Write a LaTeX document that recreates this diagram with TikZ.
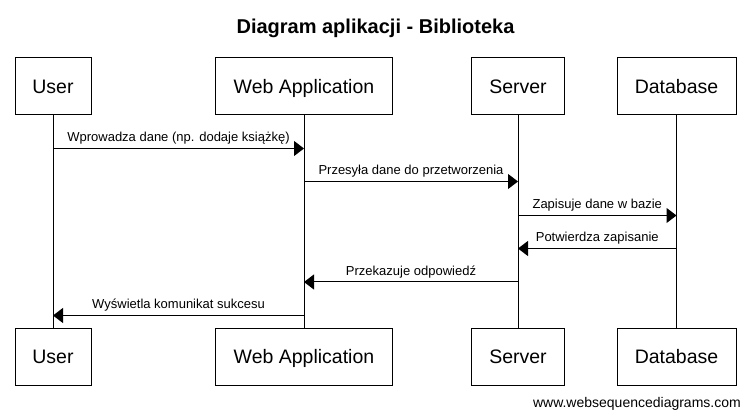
\documentclass[tikz,border=0pt]{standalone}
\usepackage{fontspec}
\setmainfont{Liberation Sans}
\usetikzlibrary{arrows.meta}
\begin{document}
\begin{tikzpicture}[x=1pt,y=-1pt,
  box/.style={draw, line width=1pt, minimum height=57pt, inner sep=0pt,
    font=\fontsize{19.5}{22}\selectfont, text height=14pt, text depth=0pt},
  life/.style={line width=1pt},
  msg/.style={line width=1pt, -{Triangle[length=10pt,width=15pt]}},
  lbl/.style={font=\fontsize{13}{15}\selectfont, anchor=base, inner sep=0pt}]
\useasboundingbox (0,0) rectangle (750,419);
\fill[white] (0,0) rectangle (750,419);
\node[font=\fontsize{20}{23}\selectfont\bfseries, anchor=base, inner sep=0pt] (title) at (375.5,33.5) {Diagram aplikacji - Biblioteka};
% top boxes
\node[box, minimum width=76pt] (U) at (53,86.5) {User};
\node[box, minimum width=177pt] (W) at (304,86.5) {Web Application};
\node[box, minimum width=93pt] (S) at (518,86.5) {Server};
\node[box, minimum width=119pt] (D) at (676.5,86.5) {Database};
% bottom boxes
\node[box, minimum width=76pt] (Ub) at (53,357) {User};
\node[box, minimum width=177pt] (Wb) at (304,357) {Web Application};
\node[box, minimum width=93pt] (Sb) at (518,357) {Server};
\node[box, minimum width=119pt] (Db) at (676.5,357) {Database};
% lifelines
\draw[life] (U) -- (Ub);
\draw[life] (W) -- (Wb);
\draw[life] (S) -- (Sb);
\draw[life] (D) -- (Db);
% message points
\coordinate (u1) at (U |- 0,148.5);
\coordinate (w1) at (W |- 0,148.5);
\coordinate (w2) at (W |- 0,181.5);
\coordinate (s2) at (S |- 0,181.5);
\coordinate (s3) at (S |- 0,215.5);
\coordinate (d3) at (D |- 0,215.5);
\coordinate (d4) at (D |- 0,248.5);
\coordinate (s4) at (S |- 0,248.5);
\coordinate (s5) at (S |- 0,282);
\coordinate (w5) at (W |- 0,282);
\coordinate (w6) at (W |- 0,315.5);
\coordinate (u6) at (U |- 0,315.5);
% messages
\draw[msg] (u1) -- (w1) node[lbl, midway, yshift=6.5pt] {Wprowadza dane (np. dodaje książkę)};
\draw[msg] (w2) -- (s2) node[lbl, midway, yshift=6.5pt] {Przesyła dane do przetworzenia};
\draw[msg] (s3) -- (d3) node[lbl, midway, yshift=6.5pt] {Zapisuje dane w bazie};
\draw[msg] (d4) -- (s4) node[lbl, midway, yshift=6.5pt] {Potwierdza zapisanie};
\draw[msg] (s5) -- (w5) node[lbl, midway, yshift=6.5pt] {Przekazuje odpowiedź};
\draw[msg] (w6) -- (u6) node[lbl, midway, yshift=6.5pt] {Wyświetla komunikat sukcesu};
% footer
\node[font=\fontsize{14}{16}\selectfont, anchor=base east, inner sep=0pt] (foot) at (741,408) {www.websequencediagrams.com};
\end{tikzpicture}
\end{document}
